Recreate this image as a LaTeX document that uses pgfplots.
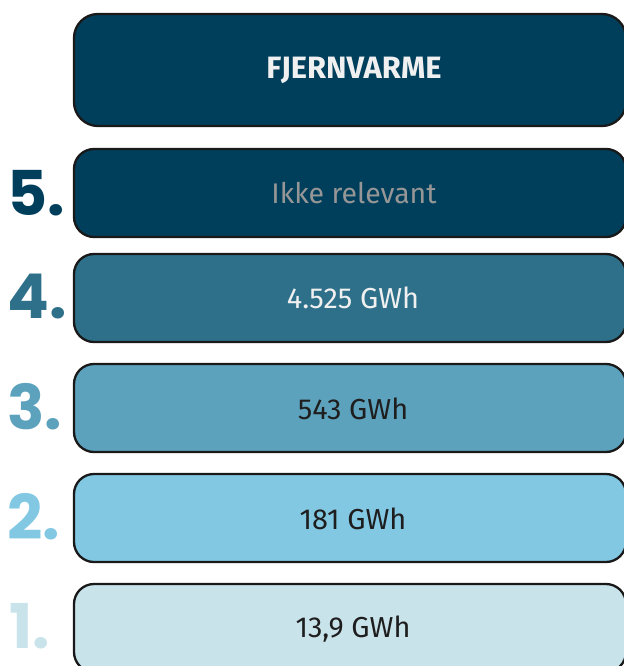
\documentclass[border=0pt]{standalone}
\usepackage{pgfplots}
\pgfplotsset{compat=1.18}
\usepackage{fontspec}
\setmainfont{Fira Sans}
\newfontfamily\numfont{Poppins}
\definecolor{c5}{RGB}{0,63,92}
\definecolor{c4}{RGB}{46,112,137}
\definecolor{c3}{RGB}{93,162,189}
\definecolor{c2}{RGB}{130,200,227}
\definecolor{c1}{RGB}{201,227,234}
\definecolor{txtdark}{RGB}{30,30,30}
\definecolor{txtgrey}{RGB}{150,150,150}
\definecolor{txtwhite}{RGB}{240,240,240}
\begin{document}
\begin{tikzpicture}
\begin{axis}[width=624bp,height=666bp,scale only axis,hide axis,
  xmin=-74,xmax=550,ymin=0,ymax=666,y dir=reverse,xbar,clip=true,
  every axis plot/.append style={draw=black!90,line width=2.3bp,bar shift=0pt,rounded corners=20bp}]
\addplot[fill=c5,bar width=112,rounded corners=24bp] coordinates {(552,70)};
\addplot[fill=c5,bar width=88] coordinates {(552,193)};
\addplot[fill=c4,bar width=88] coordinates {(552,298)};
\addplot[fill=c3,bar width=88] coordinates {(552,408)};
\addplot[fill=c2,bar width=88] coordinates {(552,518)};
\addplot[fill=c1,bar width=88] coordinates {(552,628)};
\node[text=txtwhite,font=\fontsize{31}{36}\selectfont\bfseries] at (axis cs:280,70) {FJERNVARME};
\node[text=txtgrey,font=\fontsize{28.5}{34}\selectfont] at (axis cs:280,193) {Ikke relevant};
\node[text=txtwhite,font=\fontsize{29}{34}\selectfont] at (axis cs:279,298) {4.525 GWh};
\node[text=txtdark,font=\fontsize{29}{34}\selectfont] at (axis cs:279,409) {543 GWh};
\node[text=txtdark,font=\fontsize{29}{34}\selectfont] at (axis cs:279,519) {181 GWh};
\node[text=txtdark,font=\fontsize{29}{34}\selectfont] at (axis cs:279,629) {13,9 GWh};
\node[anchor=west,inner sep=0pt,text=c5,font=\fontsize{62}{70}\selectfont\numfont\bfseries] at (axis cs:-67,193) {5.};
\node[anchor=west,inner sep=0pt,text=c4,font=\fontsize{62}{70}\selectfont\numfont\bfseries] at (axis cs:-67,297) {4.};
\node[anchor=west,inner sep=0pt,text=c3,font=\fontsize{62}{70}\selectfont\numfont\bfseries] at (axis cs:-67,407) {3.};
\node[anchor=west,inner sep=0pt,text=c2,font=\fontsize{62}{70}\selectfont\numfont\bfseries] at (axis cs:-67,517) {2.};
\node[anchor=west,inner sep=0pt,text=c1,font=\fontsize{62}{70}\selectfont\numfont\bfseries] at (axis cs:-65,626) {1.};
\coordinate (A) at (rel axis cs:0,0);
\coordinate (B) at (rel axis cs:1,1);
\end{axis}
\pgfresetboundingbox
\path[use as bounding box] (A) rectangle (B);
\end{tikzpicture}
\end{document}
